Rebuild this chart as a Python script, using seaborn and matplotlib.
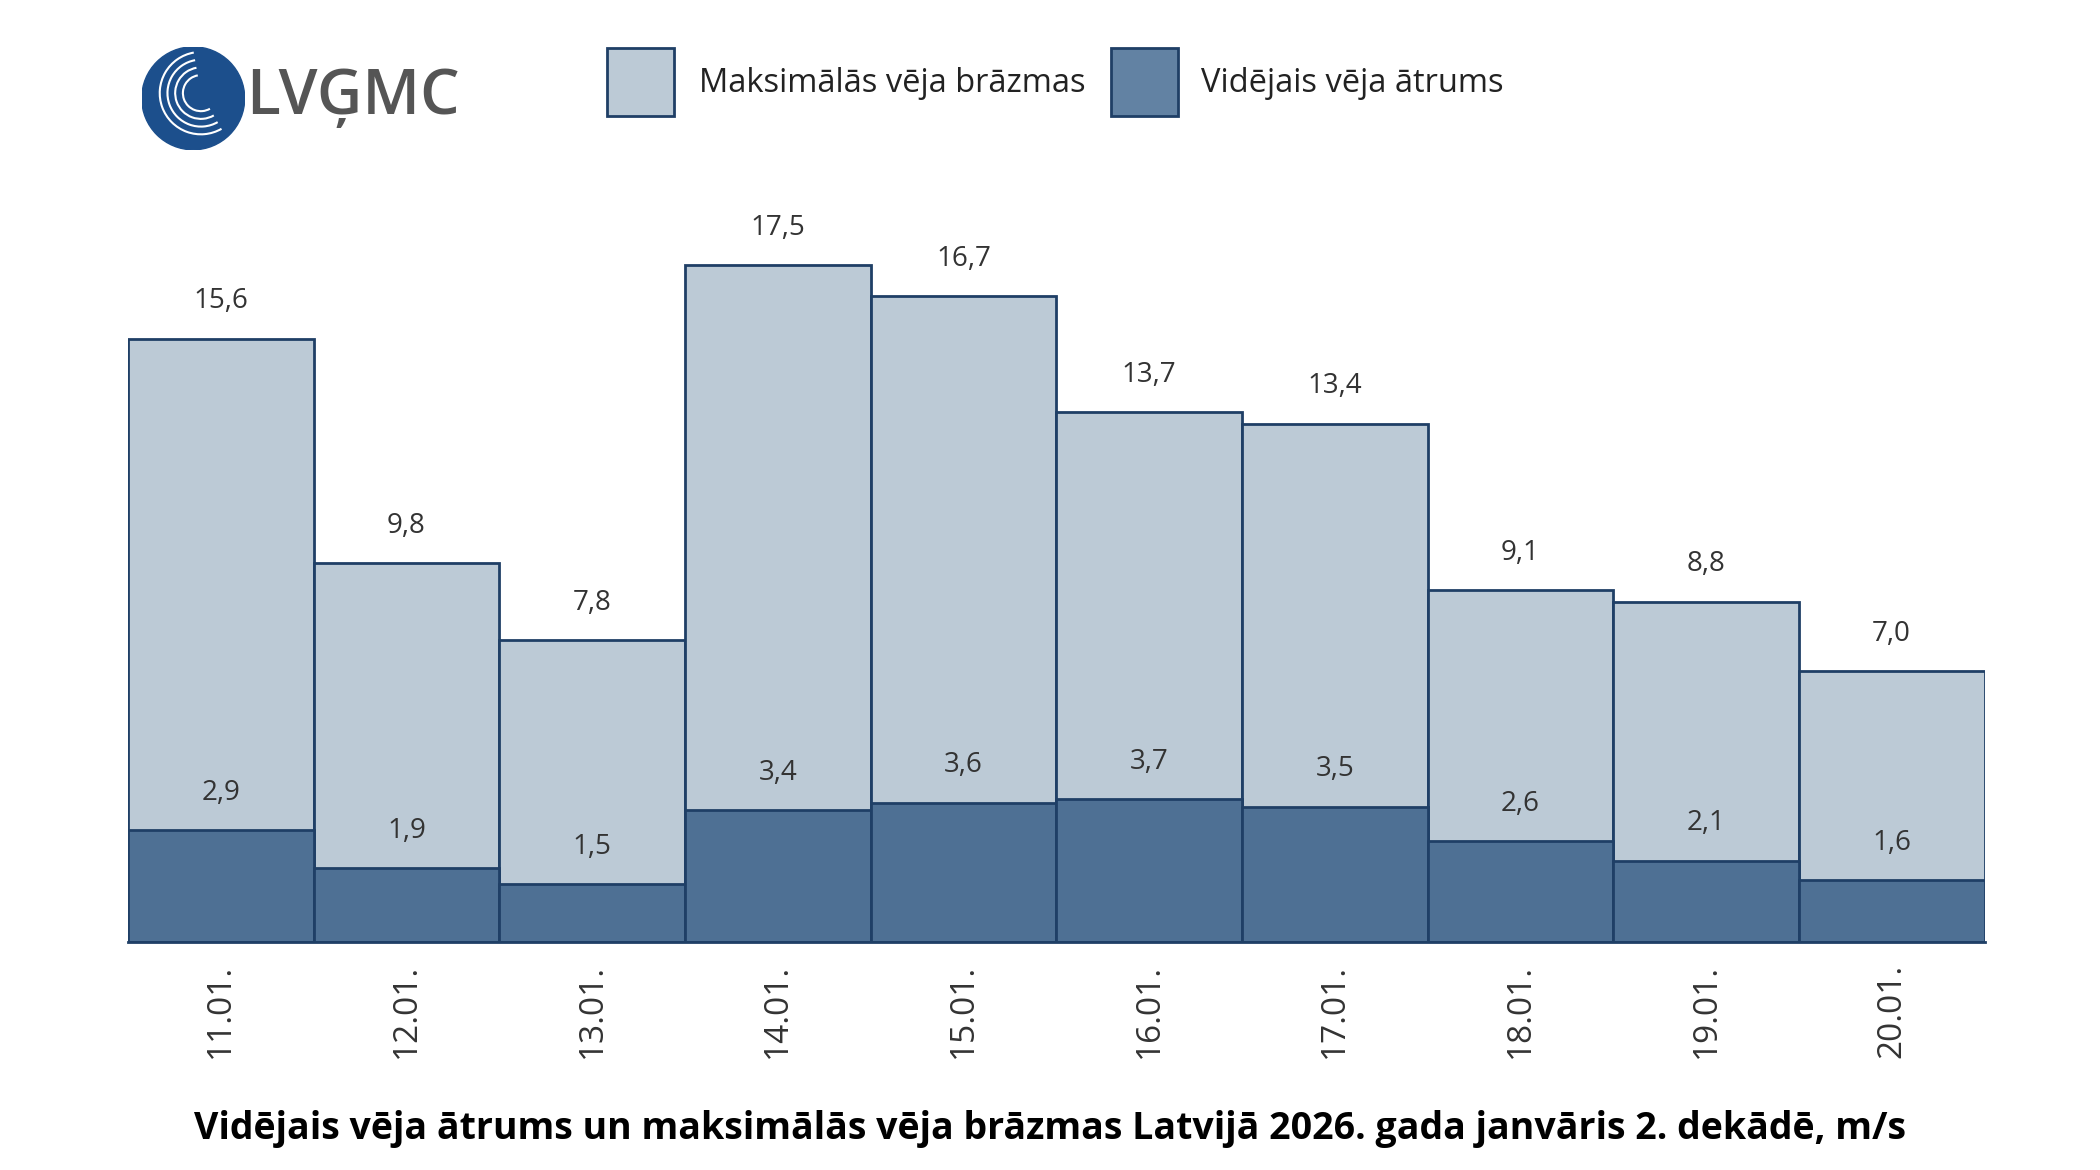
import matplotlib
matplotlib.use("Agg")
import matplotlib.pyplot as plt
import seaborn as sns
import pandas as pd
from matplotlib.patches import Rectangle, Circle, Arc

dates = ["11.01.", "12.01.", "13.01.", "14.01.", "15.01.", "16.01.", "17.01.", "18.01.", "19.01.", "20.01."]
gusts = [15.6, 9.8, 7.8, 17.5, 16.7, 13.7, 13.4, 9.1, 8.8, 7.0]
avg = [2.9, 1.9, 1.5, 3.4, 3.6, 3.7, 3.5, 2.6, 2.1, 1.6]

sns.set_theme(style="white")
plt.rcParams['font.family'] = ['Open Sans', 'DejaVu Sans']

df = pd.DataFrame({"date": dates, "gust": gusts, "avg": avg})
fig = plt.figure(figsize=(21, 11.7), dpi=100)
ax = fig.add_axes([0.061, 0.195, 0.889 - 0.005, 0.661])
edge = "#1F3F66"
sns.barplot(data=df, x="date", y="gust", color="#BCCAD6", width=1, edgecolor=edge, linewidth=2, saturation=1, ax=ax)
sns.barplot(data=df, x="date", y="avg", color="#4E7094", width=1, edgecolor=edge, linewidth=2, saturation=1, ax=ax)
ax.set_ylim(0, 20)
ax.set_xlim(-0.5, len(dates) - 0.5)
for i, (g, a) in enumerate(zip(gusts, avg)):
    ax.text(i, g + 0.6, f"{g:.1f}".replace(".", ","), ha="center", va="bottom", fontsize=20, color="#333333")
    ax.text(i, a + 0.6, f"{a:.1f}".replace(".", ","), ha="center", va="bottom", fontsize=20, color="#333333")
for s in ["top", "right", "left"]:
    ax.spines[s].set_visible(False)
ax.spines["bottom"].set_color(edge)
ax.spines["bottom"].set_linewidth(2)
ax.set_yticks([])
ax.set_xlabel("")
ax.set_ylabel("")
ax.tick_params(axis="x", labelsize=24, labelcolor="#333333", rotation=90, pad=10)

fig.text(0.5, 0.035, "Vidējais vēja ātrums un maksimālās vēja brāzmas Latvijā 2026. gada janvāris 2. dekādē, m/s",
         ha="center", va="center", fontsize=27, fontweight="bold", color="black")

fig.patches.append(Rectangle((0.289, 0.901), 0.032, 0.058, transform=fig.transFigure,
                             facecolor="#BCCAD6", edgecolor=edge, linewidth=2))
fig.text(0.333, 0.929, "Maksimālās vēja brāzmas", fontsize=23.5, va="center", color="#222222")
fig.patches.append(Rectangle((0.529, 0.901), 0.032, 0.058, transform=fig.transFigure,
                             facecolor="#6282A3", edgecolor=edge, linewidth=2))
fig.text(0.572, 0.929, "Vidējais vēja ātrums", fontsize=23.5, va="center", color="#222222")

lax = fig.add_axes([0.064, 0.872, 0.056, 0.088])
lax.set_aspect("equal")
lax.axis("off")
lax.set_xlim(-1, 1); lax.set_ylim(-1, 1)
lax.add_patch(Circle((0, 0), 1, color="#1C4F8C"))
for r in [0.35, 0.5, 0.65, 0.8]:
    lax.add_patch(Arc((0.15, 0.1), 2 * r, 2 * r, theta1=100, theta2=300, color="white", lw=1.5))
fig.text(0.117, 0.917, "LVĢMC", fontsize=45, va="center", color="#555555", fontweight="semibold")

fig.savefig("out.png", dpi=100)
